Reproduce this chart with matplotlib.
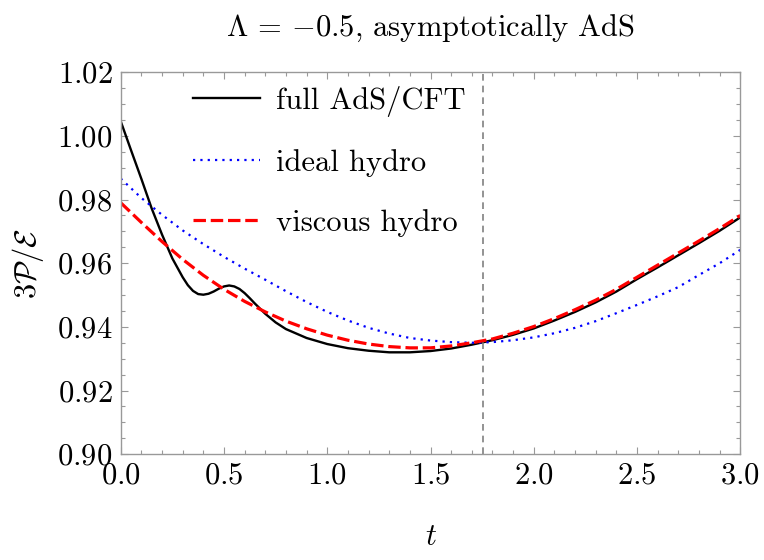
import numpy as np
import matplotlib
matplotlib.use('Agg')
import matplotlib.pyplot as plt
from matplotlib.ticker import MultipleLocator, FuncFormatter

plt.rcParams['font.family'] = 'serif'
plt.rcParams['font.serif'] = ['cmr10']
plt.rcParams['mathtext.fontset'] = 'cm'
plt.rcParams['axes.formatter.use_mathtext'] = True

# full AdS/CFT
t_full = [0.00, 0.05, 0.10, 0.15, 0.20, 0.25, 0.30, 0.325, 0.35, 0.375, 0.40, 0.425,
          0.45, 0.475, 0.50, 0.525, 0.55, 0.575, 0.60, 0.625, 0.65, 0.70, 0.75, 0.80,
          0.90, 1.00, 1.10, 1.20, 1.30, 1.40, 1.50, 1.60, 1.70, 1.80, 1.90, 2.00,
          2.10, 2.20, 2.30, 2.40, 2.50, 2.60, 2.70, 2.80, 2.90, 3.00]
full = [1.0046, 0.9955, 0.9865, 0.9772, 0.9690, 0.9615, 0.9556, 0.9531, 0.9513,
        0.9503, 0.9501, 0.9504, 0.9511, 0.9520, 0.9527, 0.9530, 0.9527, 0.9519,
        0.9506, 0.9490, 0.9473, 0.9441, 0.9414, 0.9393, 0.9365, 0.9346, 0.9333,
        0.9325, 0.9320, 0.9320, 0.9324, 0.9332, 0.9344, 0.9358, 0.9375, 0.9395,
        0.9420, 0.9447, 0.9477, 0.9511, 0.9550, 0.9587, 0.9625, 0.9663, 0.9702,
        0.9744]

# ideal and viscous hydro
t_hydro = [0.0, 0.1, 0.2, 0.3, 0.4, 0.5, 0.6, 0.7, 0.8, 0.9, 1.0, 1.1, 1.2, 1.3,
           1.4, 1.5, 1.6, 1.7, 1.8, 1.9, 2.0, 2.1, 2.2, 2.3, 2.4, 2.5, 2.6, 2.7,
           2.8, 2.9, 3.0]
ideal = [0.9866, 0.9805, 0.9752, 0.9703, 0.9660, 0.9620, 0.9583, 0.9548, 0.9512,
         0.9478, 0.9447, 0.9420, 0.9397, 0.9379, 0.9365, 0.9357, 0.9352, 0.9350,
         0.9352, 0.9358, 0.9367, 0.9380, 0.9397, 0.9418, 0.9443, 0.9469, 0.9496,
         0.9525, 0.9563, 0.9600, 0.9642]
viscous = [0.9790, 0.9728, 0.9668, 0.9612, 0.9562, 0.9518, 0.9480, 0.9447, 0.9418,
           0.9394, 0.9374, 0.9358, 0.9346, 0.9338, 0.9334, 0.9334, 0.9340, 0.9350,
           0.9362, 0.9380, 0.9401, 0.9426, 0.9454, 0.9484, 0.9518, 0.9556, 0.9594,
           0.9632, 0.9670, 0.9709, 0.9750]

t_switch = 1.756

fig = plt.figure(figsize=(7.64, 5.60), dpi=100)
ax = fig.add_axes([0.158, 0.189, 0.811, 0.682])

ax.plot(t_full, full, color='black', lw=1.7, label='full AdS/CFT')
ax.plot(t_hydro, ideal, color='blue', lw=1.6, linestyle=(0, (1, 2.3)), label='ideal hydro')
ax.plot(t_hydro, viscous, color='red', lw=2.3, linestyle=(0, (3.9, 1.5)), label='viscous hydro')
ax.axvline(t_switch, color='#808080', lw=1.2, linestyle=(0, (4, 3)))

ax.set_xlim(0, 3)
ax.set_ylim(0.90, 1.02)
ax.xaxis.set_major_locator(MultipleLocator(0.5))
ax.xaxis.set_minor_locator(MultipleLocator(0.1))
ax.yaxis.set_major_locator(MultipleLocator(0.02))
ax.yaxis.set_minor_locator(MultipleLocator(0.005))
ax.xaxis.set_major_formatter(FuncFormatter(lambda v, p: '$%.1f$' % v))
ax.yaxis.set_major_formatter(FuncFormatter(lambda v, p: '$%.2f$' % v))

for s in ax.spines.values():
    s.set_color('#999999')
    s.set_linewidth(1.0)
ax.tick_params(which='both', direction='in', top=True, right=True, color='#999999',
               labelsize=22, labelcolor='black')
ax.tick_params(which='major', length=5, width=0.8, pad=6)
ax.tick_params(which='minor', length=3, width=0.8)

ax.set_title(r'$\Lambda$ = $-$0.5, asymptotically AdS', fontsize=22, pad=26)
ax.set_ylabel(r'$3\mathcal{P}/\mathcal{E}$', fontsize=22, labelpad=8)
ax.set_xlabel(r'$t$', fontsize=22, labelpad=24)

ax.legend(loc='upper left', bbox_to_anchor=(0.117, 0.965), frameon=False, fontsize=22,
          handlelength=2.2, handletextpad=0.5, labelspacing=1.05, borderpad=0,
          borderaxespad=0)

fig.savefig('out.png', dpi=100)
